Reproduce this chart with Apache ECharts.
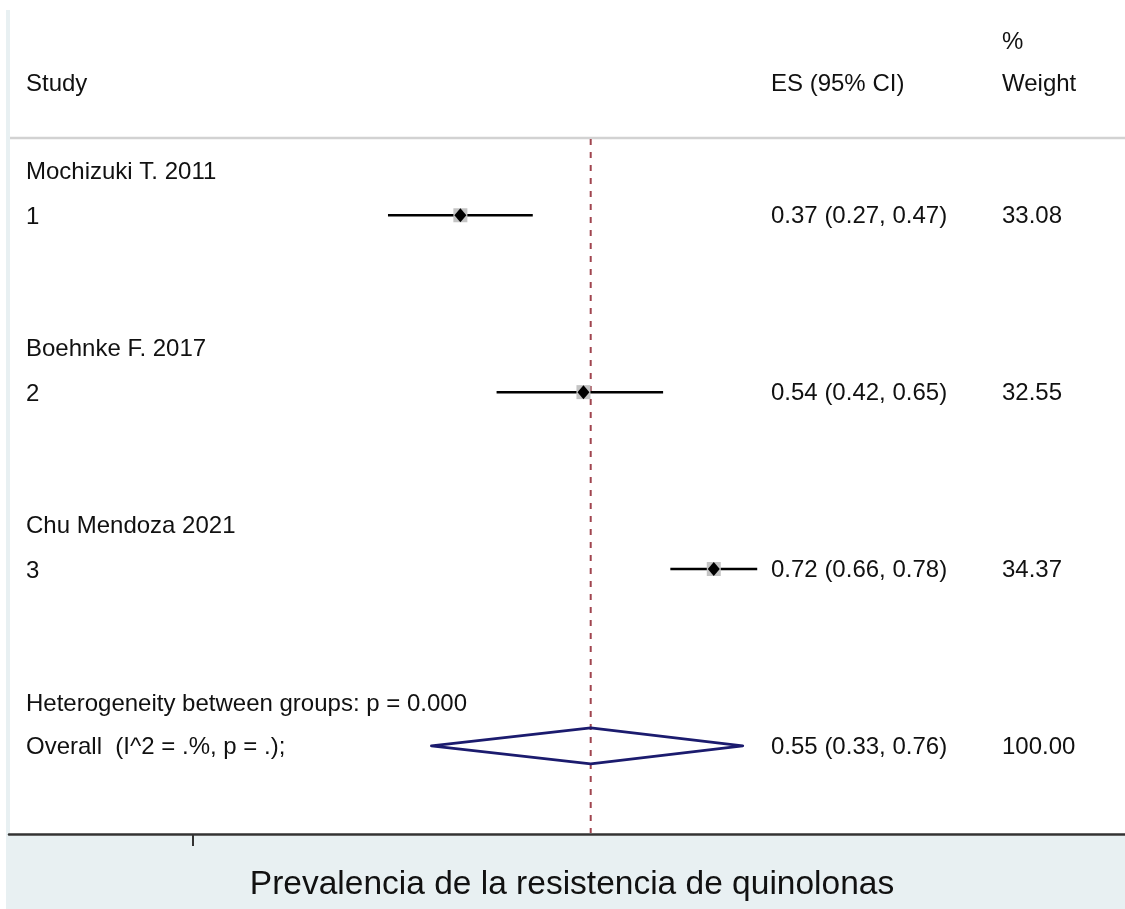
<!DOCTYPE html>
<html>
<head>
<meta charset="utf-8">
<script src="https://cdn.jsdelivr.net/npm/echarts@6/dist/echarts.min.js"></script>
<style>
html,body{margin:0;padding:0;background:#fff;}
#chart{width:1125px;height:909px;}
</style>
</head>
<body>
<div id="chart"></div>
<script>
// ---- data ----
const studyNames = ['Mochizuki T. 2011', 'Boehnke F. 2017', 'Chu Mendoza 2021'];
const studyIds = ['1', '2', '3'];
const esValues = [0.37, 0.54, 0.72];
const ciLow = [0.27, 0.42, 0.66];
const ciHigh = [0.47, 0.65, 0.78];
const weights = ['33.08', '32.55', '34.37'];
const overallES = 0.55;
const overallLow = 0.33;
const overallHigh = 0.76;
const overallWeight = '100.00';
const heterogeneityText = 'Heterogeneity between groups: p = 0.000';
const overallLabel = 'Overall  (I^2 = .%, p = .);';
const headers = { study: 'Study', es: 'ES (95% CI)', pct: '%', weight: 'Weight' };
const xTicks = [0];
const axisTitle = 'Prevalencia de la resistencia de quinolonas';

const FONT = '"Liberation Sans", Arial, sans-serif';
const TXT = 24;
const fmt = v => v.toFixed(2);

const chart = echarts.init(document.getElementById('chart'), null, { renderer: 'canvas' });

const studyData = esValues.map((v, i) => [ciLow[i], ciHigh[i], v, i + 1]);
const overallData = [[overallLow, overallHigh, overallES, studyData.length + 1]];

function txt(text, x, y, size, align) {
  return {
    type: 'text',
    style: {
      text: text, x: x, y: y, fill: '#111',
      font: size + 'px ' + FONT,
      align: align || 'left', verticalAlign: 'middle',
      textAlign: align || 'left', textVerticalAlign: 'middle'
    }
  };
}

const option = {
  animation: false,
  backgroundColor: '#ffffff',
  grid: { left: 9, right: 0, top: 0, bottom: 75 },
  xAxis: {
    type: 'value',
    min: -0.25345, max: 1.28798,
    position: 'bottom',
    z: 5,
    axisLine: { show: true, onZero: false, lineStyle: { color: '#333', width: 2.5 } },
    axisTick: { show: true, customValues: xTicks, length: 12, lineStyle: { color: '#333', width: 2 } },
    axisLabel: { show: false },
    splitLine: { show: false }
  },
  yAxis: {
    type: 'value', inverse: true, min: -0.217, max: 4.498,
    show: false, splitLine: { show: false }
  },
  graphic: [
    { type: 'rect', z: -1, shape: { x: 6, y: 10, width: 4, height: 899 }, style: { fill: '#e8f0f2' } },
    { type: 'rect', z: -1, shape: { x: 6, y: 836, width: 1119, height: 73 }, style: { fill: '#e8f0f2' } },
    { type: 'line', shape: { x1: 10, y1: 138, x2: 1125, y2: 138 }, style: { stroke: '#d2d2d2', lineWidth: 2.5 } },
    txt(headers.study, 26, 84, TXT),
    txt(headers.es, 771, 84, TXT),
    txt(headers.pct, 1002, 42, TXT),
    txt(headers.weight, 1002, 84, TXT),
    txt(axisTitle, 572, 885, 33.5, 'center')
  ],
  series: [
    {
      type: 'custom',
      z: 1,
      data: overallData,
      renderItem: function (params, api) {
        const lo = api.coord([api.value(0), api.value(3)]);
        const hi = api.coord([api.value(1), api.value(3)]);
        const c = api.coord([api.value(2), api.value(3)]);
        const h = 18;
        return {
          type: 'group',
          children: [
            { type: 'line', shape: { x1: c[0], y1: 139, x2: c[0], y2: 833 },
              style: { stroke: '#a0454f', lineWidth: 2, lineDash: [6, 7] } },
            { type: 'polygon', shape: { points: [[lo[0], lo[1]], [c[0], c[1] - h], [hi[0], hi[1]], [c[0], c[1] + h]] },
              style: { fill: 'none', stroke: '#1b1b6e', lineWidth: 2.8, lineJoin: 'round' } },
            txt(heterogeneityText, 26, c[1] - 42, TXT),
            txt(overallLabel, 26, c[1] + 1, TXT),
            txt(fmt(api.value(2)) + ' (' + fmt(api.value(0)) + ', ' + fmt(api.value(1)) + ')', 771, c[1] + 1, TXT),
            txt(overallWeight, 1002, c[1] + 1, TXT)
          ]
        };
      }
    },
    {
      type: 'custom',
      z: 3,
      data: studyData,
      renderItem: function (params, api) {
        const i = params.dataIndex;
        const lo = api.coord([api.value(0), api.value(3)]);
        const hi = api.coord([api.value(1), api.value(3)]);
        const c = api.coord([api.value(2), api.value(3)]);
        const s = 7, d = 6;
        return {
          type: 'group',
          children: [
            { type: 'line', shape: { x1: lo[0], y1: lo[1], x2: hi[0], y2: hi[1] },
              style: { stroke: '#000', lineWidth: 2.5 } },
            { type: 'rect', shape: { x: c[0] - s, y: c[1] - s, width: 2 * s, height: 2 * s },
              style: { fill: '#c4c4c4' } },
            { type: 'polygon', shape: { points: [[c[0] - d, c[1]], [c[0], c[1] - d - 1], [c[0] + d, c[1]], [c[0], c[1] + d + 1]] },
              style: { fill: '#000' } },
            txt(studyNames[i], 26, c[1] - 43, TXT),
            txt(studyIds[i], 26, c[1] + 2, TXT),
            txt(fmt(api.value(2)) + ' (' + fmt(api.value(0)) + ', ' + fmt(api.value(1)) + ')', 771, c[1] + 1, TXT),
            txt(weights[i], 1002, c[1] + 1, TXT)
          ]
        };
      }
    }
  ]
};
chart.setOption(option);
</script>
</body>
</html>
